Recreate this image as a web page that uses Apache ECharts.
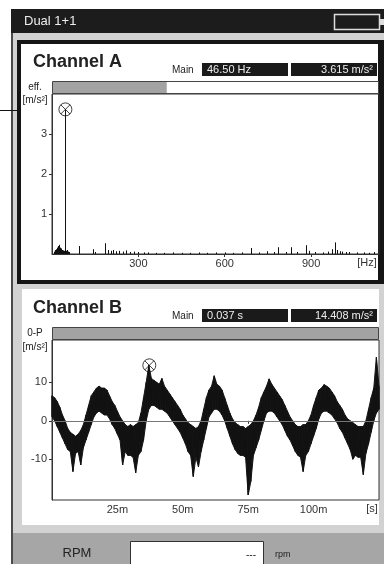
<!DOCTYPE html>
<html><head><meta charset="utf-8">
<script src="https://cdn.jsdelivr.net/npm/echarts@6/dist/echarts.min.js"></script>
<style>html,body{margin:0;padding:0;background:#fff}#c{width:384px;height:564px}</style>
</head><body><div id="c"></div>
<script>
// ---- texts ----
const titleText = 'Dual 1+1';
const chanAName = 'Channel A';
const chanBName = 'Channel B';
const readoutA = ['46.50 Hz', '3.615 m/s²'];
const readoutB = ['0.037 s', '14.408 m/s²'];
const unitA = ['eff.', '[m/s²]'];
const unitB = ['0-P', '[m/s²]'];
const xUnitA = '[Hz]';
const xUnitB = '[s]';
const rpmLabel = 'RPM';
const rpmValue = '---';
const rpmUnit = 'rpm';

// ---- axes ----
const ticksAx = [300, 600, 900];
const ticksAy = [1, 2, 3];
const ticksBx = [25, 50, 75, 100];
const ticksBy = [-10, 0, 10];
const rangeAx = [0, 1136];
const rangeAy = [0, 4];
const rangeBx = [0, 125];
const rangeBy = [-20.6, 21];

// ---- Channel A spectrum (Hz, m/s²) ----
const specFreq = [6,8,10,12,14,16,18,20,22,24,26,28,30,32,34,36,38,40,42,46.5,50,52,56,58,95,141,150,185,195,205,212,222,232,245,258,270,285,300,318,335,360,390,420,450,480,510,540,570,600,630,660,693,720,748,770,784,814,831,852,881,892,915,940,958,973,983,991,1000,1009,1020,1032,1061,1084,1100,1118];
const specAmp  = [0.04,0.06,0.08,0.1,0.12,0.14,0.16,0.2,0.18,0.23,0.2,0.16,0.14,0.12,0.1,0.1,0.09,0.08,0.07,3.615,0.08,0.1,0.06,0.05,0.2,0.12,0.05,0.27,0.1,0.08,0.1,0.07,0.08,0.06,0.09,0.05,0.06,0.05,0.04,0.04,0.03,0.03,0.04,0.03,0.03,0.04,0.03,0.04,0.04,0.03,0.04,0.15,0.04,0.07,0.05,0.17,0.05,0.17,0.05,0.22,0.08,0.05,0.04,0.06,0.12,0.29,0.1,0.07,0.06,0.05,0.05,0.04,0.04,0.03,0.05];
const markerA = [46.5, 3.615];

// ---- Channel B time signal envelope (ms, m/s²) ----
const timeMs = [0,1,2,3,4,5,6,7,8,9,10,11,12,13,14,15,16,17,18,19,20,21,22,23,24,25,26,27,28,29,30,31,32,33,34,35,36,37,38,39,40,41,42,43,44,45,46,47,48,49,50,51,52,53,54,55,56,57,58,59,60,61,62,63,64,65,66,67,68,69,70,71,72,73,74,75,76,77,78,79,80,81,82,83,84,85,86,87,88,89,90,91,92,93,94,95,96,97,98,99,100,101,102,103,104,105,106,107,108,109,110,111,112,113,114,115,116,117,118,119,120,121,122,123,124,125];
const waveHi = [6.5,6,5,3.5,1.5,0,-2,-3,-3.5,-4,-3.5,-2.5,-1,1.5,4,6.5,7.5,8.5,9,8.5,8.5,8,6.5,5,4,2.5,1,0,-1,-1.5,-1,-1.5,-1,-0.5,2,6,10,14.4,11,10.5,10,9.5,11,9,8,7,6,5,4,3,1.5,0.5,-0.5,-1,-1.5,-2,-1.5,0,3,6,8,9,11.7,9.5,9,8,6,4,2,0.5,-0.5,-1,-1.5,-1.5,-2,-1.5,-1,0,1.5,3.5,6,7.5,9,10.9,9.5,8.5,7.5,6.5,5.5,4,2.5,1,0,-1,-1.5,-1.5,-1,-1,0,1.5,4,6,8,8.5,9.4,9,8.5,7.5,6.5,5,4,3,1.5,0.5,0,-0.5,-1,-1.5,-1.5,-1.5,0,3,6,8.5,16.5,9];
const waveLo = [1,0,-1.5,-3,-4.5,-6,-7.5,-8,-13.2,-8.5,-8,-11.5,-7,-5,-3,-1,1,2,2.5,2,1.5,1.5,0.5,-1,-2,-3.5,-5,-11.5,-8,-9,-9,-9.5,-13.5,-9,-8,-5,0,3,4,4,3.5,3,3,2.5,2,1,0,-1,-2,-3,-4.5,-6,-8,-9,-14.5,-9.5,-12,-8,-5,-2,1,2,3,3,2.5,1.5,0,-2,-4,-6,-7.5,-8.5,-9,-9,-9.5,-19.3,-15.8,-9,-7,-5,-2.5,0,2,2.5,2.5,2,1,0,-1,-2.5,-4,-5,-6.5,-8,-9,-9.5,-13.2,-9,-8,-6,-4,-2,0.5,2,2.5,2.5,2,1.5,0.5,-0.5,-2,-3,-4.5,-6,-7.5,-10,-9,-9.5,-9.5,-14,-8.5,-6,-3,0,2,3];
const markerB = [37.2, 14.408];
const gaugeA = 0.35; // fill fraction of Channel A level bar
const gaugeB = 1.0;

// ---------------------------------------------------------
const FONT = '"Liberation Sans", Arial, sans-serif';
const wavePts = [];
timeMs.forEach((t, i) => { wavePts.push([t, waveLo[i]]); wavePts.push([t, waveHi[i]]); });
const specPts = specFreq.map((f, i) => [f, specAmp[i]]);

const crossSym = 'path://M1 10 A9 9 0 0 1 19 10 A9 9 0 0 1 1 10 Z M3.6 3.6 L16.4 16.4 M16.4 3.6 L3.6 16.4';

function txt(text, x, y, size, opts) {
  opts = opts || {};
  return { type: 'text', z: 20, style: { text: text, x: x, y: y, font: (opts.weight || 'normal') + ' ' + size + 'px ' + FONT,
    fill: opts.fill || '#222', align: opts.align || 'left', verticalAlign: 'middle' } };
}
function rect(x, y, w, h, fill, extra) {
  return Object.assign({ type: 'rect', z: -10, shape: { x: x, y: y, width: w, height: h }, style: { fill: fill } }, extra || {});
}

const PW = 327, PL = 52;
const elements = [
  rect(11, 9, 373, 24, '#1c1c1c'),
  rect(11, 33, 2, 531, '#4a4a4a'),
  rect(13, 33, 371, 500, '#d2d2d2'),
  rect(13, 533, 371, 31, '#a6a6a6'),
  rect(17, 40, 367, 244, '#151515'),
  rect(21, 44, 357, 236, '#ffffff'),
  rect(22, 289, 357, 236, '#ffffff'),
  { type: 'line', z: -5, shape: { x1: 0, y1: 110.5, x2: 17, y2: 110.5 }, style: { stroke: '#111', lineWidth: 1 } },
  // battery
  { type: 'rect', z: 5, shape: { x: 334.5, y: 14.5, width: 45, height: 15 }, style: { fill: 'none', stroke: '#ddd', lineWidth: 1.5 } },
  rect(380, 19, 4, 6, '#ddd', { z: 5 }),
  txt(titleText, 24, 21.5, 13, { fill: '#eee' }),
  // Channel A header
  txt(chanAName, 33, 62, 18, { weight: 'bold', fill: '#222' }),
  txt('Main', 172, 70, 10, { fill: '#222' }),
  rect(202, 63, 86, 13, '#1a1a1a', { z: 5 }),
  rect(291, 63, 86, 13, '#1a1a1a', { z: 5 }),
  txt(readoutA[0], 207, 69.5, 11, { fill: '#eee' }),
  txt(readoutA[1], 373, 69.5, 11, { fill: '#eee', align: 'right' }),
  { type: 'rect', z: 5, shape: { x: PL + 0.5, y: 81.5, width: PW - 1, height: 12 }, style: { fill: '#fff', stroke: '#444', lineWidth: 1 } },
  rect(PL + 1, 82, (PW - 2) * gaugeA, 11, '#a3a3a3', { z: 6 }),
  txt(unitA[0], 35, 87, 10, { align: 'center' }),
  txt(unitA[1], 35, 100, 10, { align: 'center' }),
  txt(xUnitA, 367, 263, 11, { align: 'center', fill: '#333' }),
  // Channel B header
  txt(chanBName, 33, 308, 18, { weight: 'bold', fill: '#222' }),
  txt('Main', 172, 316, 10, { fill: '#222' }),
  rect(202, 309, 86, 13, '#1a1a1a', { z: 5 }),
  rect(291, 309, 86, 13, '#1a1a1a', { z: 5 }),
  txt(readoutB[0], 207, 315.5, 11, { fill: '#eee' }),
  txt(readoutB[1], 373, 315.5, 11, { fill: '#eee', align: 'right' }),
  { type: 'rect', z: 5, shape: { x: PL + 0.5, y: 327.5, width: PW - 1, height: 12 }, style: { fill: '#fff', stroke: '#444', lineWidth: 1 } },
  rect(PL + 1, 328, (PW - 2) * gaugeB, 11, '#a3a3a3', { z: 6 }),
  txt(unitB[0], 35, 333, 10, { align: 'center' }),
  txt(unitB[1], 35, 347, 10, { align: 'center' }),
  txt(xUnitB, 372, 509, 11, { align: 'center', fill: '#333' }),
  // bottom RPM area
  txt(rpmLabel, 77, 553, 13, { align: 'center', fill: '#222' }),
  { type: 'rect', z: 5, shape: { x: 130.5, y: 541.5, width: 133, height: 30 }, style: { fill: '#fff', stroke: '#333', lineWidth: 1 } },
  txt(rpmValue, 256, 555, 10, { align: 'right', fill: '#222' }),
  txt(rpmUnit, 275, 555, 9, { fill: '#222' })
];

function xAx(grid, range, ticks, fmt) {
  return { gridIndex: grid, type: 'value', min: range[0], max: range[1],
    axisLine: { lineStyle: { color: '#333', width: 1 } },
    splitLine: { show: false },
    axisTick: { customValues: ticks, length: 3, lineStyle: { color: '#333' } },
    axisLabel: { customValues: ticks, color: '#333', fontSize: 11, fontFamily: FONT, margin: 4, formatter: fmt } };
}
function yAx(grid, range, ticks) {
  return { gridIndex: grid, type: 'value', min: range[0], max: range[1],
    axisLine: { show: true, lineStyle: { color: '#333', width: 1 } },
    splitLine: { show: false },
    axisTick: { show: true, customValues: ticks, length: 3, lineStyle: { color: '#333' } },
    axisLabel: { customValues: ticks, color: '#333', fontSize: 11, fontFamily: FONT, margin: 5 } };
}

const chart = echarts.init(document.getElementById('c'), null, { renderer: 'canvas' });
chart.setOption({
  animation: false,
  backgroundColor: '#fff',
  graphic: { elements: elements },
  grid: [
    { left: PL, top: 94, width: PW, height: 160, show: true, borderColor: '#333', borderWidth: 1, backgroundColor: 'rgba(0,0,0,0)' },
    { left: PL, top: 340, width: PW, height: 160, show: true, borderColor: '#333', borderWidth: 1, backgroundColor: 'rgba(0,0,0,0)' }
  ],
  xAxis: [ xAx(0, rangeAx, ticksAx), xAx(1, rangeBx, ticksBx, v => v + 'm') ],
  yAxis: [ yAx(0, rangeAy, ticksAy), yAx(1, rangeBy, ticksBy) ],
  series: [
    { type: 'custom', xAxisIndex: 0, yAxisIndex: 0, data: specPts, z: 3,
      renderItem: function (params, api) {
        const p0 = api.coord([api.value(0), 0]);
        const p1 = api.coord([api.value(0), api.value(1)]);
        const x = Math.round(p0[0]) + 0.5;
        return { type: 'line', shape: { x1: x, y1: p0[1], x2: x, y2: p1[1] }, style: { stroke: '#111', lineWidth: 1 } };
      } },
    { type: 'scatter', xAxisIndex: 0, yAxisIndex: 0, data: [markerA], symbol: crossSym, symbolSize: 13, z: 5,
      itemStyle: { color: 'rgba(0,0,0,0)', borderColor: '#111', borderWidth: 1 } },
    // filled envelope band of the time signal
    { type: 'custom', xAxisIndex: 1, yAxisIndex: 1, data: [[0]], z: 3, silent: true,
      renderItem: function (params, api) {
        const pts = [];
        for (let i = 0; i < timeMs.length; i++) pts.push(api.coord([timeMs[i], waveHi[i]]));
        for (let i = timeMs.length - 1; i >= 0; i--) pts.push(api.coord([timeMs[i], waveLo[i]]));
        return { type: 'polygon', shape: { points: pts }, style: { fill: '#151515', stroke: '#151515', lineWidth: 1 } };
      } },
    { type: 'line', xAxisIndex: 1, yAxisIndex: 1, data: wavePts, showSymbol: false, z: 4,
      lineStyle: { color: '#111', width: 1 },
      markLine: { silent: true, symbol: 'none', label: { show: false }, lineStyle: { color: '#777', width: 1, type: 'solid' }, data: [{ yAxis: 0 }] } },
    { type: 'scatter', xAxisIndex: 1, yAxisIndex: 1, data: [markerB], symbol: crossSym, symbolSize: 13, z: 5,
      itemStyle: { color: 'rgba(0,0,0,0)', borderColor: '#111', borderWidth: 1 } }
  ]
});
</script></body></html>
